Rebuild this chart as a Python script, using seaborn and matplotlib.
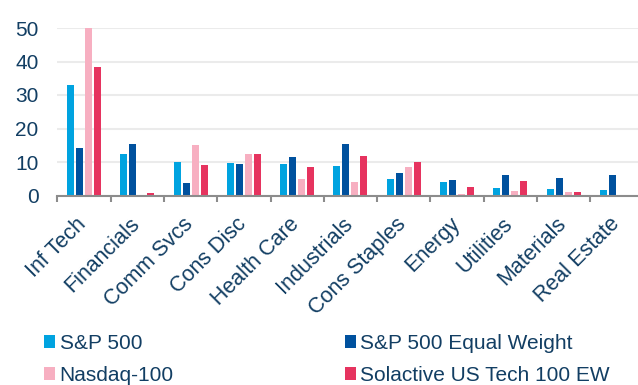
import numpy as np
import pandas as pd
import matplotlib
matplotlib.use("Agg")
import matplotlib.pyplot as plt
import matplotlib.transforms as mtransforms
from matplotlib.patches import Patch
import seaborn as sns

sectors = ["Inf Tech", "Financials", "Comm Svcs", "Cons Disc", "Health Care",
           "Industrials", "Cons Staples", "Energy", "Utilities", "Materials", "Real Estate"]
series_names = ["S&P 500", "S&P 500 Equal Weight", "Nasdaq-100", "Solactive US Tech 100 EW"]
sp500 = [32.9, 12.4, 10.1, 9.8, 9.3, 8.9, 5.0, 3.9, 2.3, 1.9, 1.7]
sp500_ew = [14.3, 15.4, 3.8, 9.3, 11.6, 15.4, 6.8, 4.7, 6.2, 5.3, 6.0]
nasdaq100 = [50.0, 0.0, 15.2, 12.4, 4.9, 3.9, 8.5, 0.5, 1.4, 1.1, 0.0]
solactive = [38.3, 0.6, 9.2, 12.5, 8.5, 11.9, 9.9, 2.6, 4.4, 1.0, 0.0]
yticks = [0, 10, 20, 30, 40, 50]

colors = ["#00A3E0", "#00519E", "#F7AFC1", "#E6335F"]
text_color = "#123E63"

rows = []
for name, vals in zip(series_names, [sp500, sp500_ew, nasdaq100, solactive]):
    for s, v in zip(sectors, vals):
        rows.append({"sector": s, "series": name, "value": v})
df = pd.DataFrame(rows)

sns.set_theme(style="white")
plt.rcParams["font.family"] = ["Liberation Sans", "DejaVu Sans"]

fig = plt.figure(figsize=(6.38, 3.85), dpi=100)
ax = fig.add_axes([57.3 / 638, 1 - 195.5 / 385, (11 * 53.3) / 638, (195.5 - 28) / 385])

sns.barplot(data=df, x="sector", y="value", hue="series", order=sectors,
            hue_order=series_names, palette=colors, saturation=1, width=0.675, gap=0.22,
            linewidth=0, legend=False, ax=ax)

ax.set_ylim(0, 50)
ax.set_xlim(-0.5, 10.5)
ax.set_yticks(yticks)
ax.set_yticklabels([str(t) for t in yticks])
ax.yaxis.grid(True, color="#EBEBEB", linewidth=1.5)
ax.set_axisbelow(True)
ax.set_xlabel("")
ax.set_ylabel("")
for sp in ["top", "right", "left"]:
    ax.spines[sp].set_visible(False)
ax.spines["bottom"].set_color("#8C8C8C")
ax.spines["bottom"].set_linewidth(1.5)

ax.tick_params(axis="y", length=0, pad=13.5, labelsize=15, labelcolor=text_color)
ax.set_xticks(np.arange(-0.5, 11, 1), minor=True)
ax.tick_params(axis="x", which="minor", length=4.5, width=1.5, color="#8C8C8C", bottom=True)
ax.tick_params(axis="x", which="major", length=0, pad=13, labelsize=15.5, labelcolor=text_color)
offset = mtransforms.ScaledTranslation(-0.08, 0, fig.dpi_scale_trans)
for lbl in ax.get_xticklabels():
    lbl.set_rotation(45)
    lbl.set_ha("right")
    lbl.set_va("top")
    lbl.set_rotation_mode("anchor")
    lbl.set_transform(lbl.get_transform() + offset)

handles = [Patch(facecolor=colors[i], edgecolor="none") for i in [0, 2, 1, 3]]
labels = [series_names[i] for i in [0, 2, 1, 3]]
fig.legend(handles, labels, loc="upper left", bbox_to_anchor=(44 / 638, 1 - 334 / 385),
           ncol=2, frameon=False, fontsize=15, labelcolor=text_color,
           handlelength=0.55, handleheight=0.55, handletextpad=0.2,
           columnspacing=8.2, labelspacing=0.62, borderpad=0, borderaxespad=0)

fig.savefig("out.png", dpi=100)
